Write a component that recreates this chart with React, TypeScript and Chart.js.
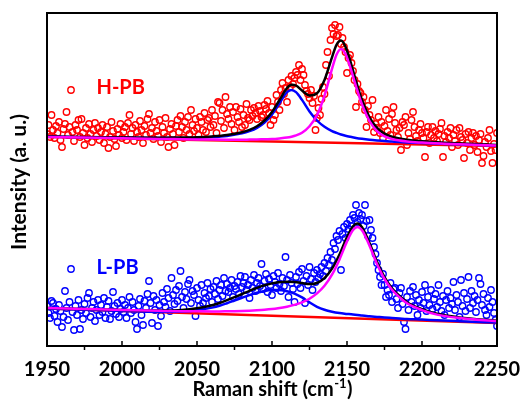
import React, { useEffect, useRef } from "react";
import { Chart, registerables } from "chart.js";

Chart.register(...registerables);

// Raman shift sampling of the measured spectra (cm-1)
const shiftStart = 1950;
const shiftStep = 1;

// H-PB measured intensity (a.u.), one value per cm-1 from 1950 to 2250
const hpbCounts = [
  212, 221, 209, 231, 216, 208, 220, 213, 224, 206,
  199, 217, 222, 234, 211, 219, 256, 214, 205, 221,
  216, 226, 209, 227, 213, 201, 218, 208, 222, 212,
  204, 216, 223, 210, 218, 206, 214, 221, 203, 212,
  219, 198, 209, 224, 215, 207, 200, 217, 211, 222,
  208, 214, 219, 206, 223, 231, 212, 218, 205, 221,
  214, 209, 225, 216, 203, 220, 211, 227, 232, 213,
  218, 207, 224, 215, 210, 226, 204, 219, 213, 228,
  209, 199, 217, 222, 212, 201, 220, 226, 214, 230,
  219, 208, 224, 216, 229, 212, 236, 221, 215, 227,
  218, 211, 229, 224, 216, 233, 214, 226, 228, 219,
  236, 221, 230, 213, 244, 243, 225, 236, 218, 249,
  232, 227, 239, 222, 234, 216, 239, 229, 224, 237,
  219, 231, 221, 242, 228, 226, 236, 230, 238, 233,
  227, 240, 235, 229, 231, 241, 237, 245, 233, 221,
  239, 226, 231, 251, 244, 236, 256, 263, 252, 258,
  244, 266, 259, 270, 262, 268, 274, 271, 281, 266,
  277, 271, 261, 255, 252, 248, 256, 243, 250, 216,
  228, 238, 231, 247, 259, 252, 281, 294, 270, 306,
  318, 312, 321, 310, 311, 319, 302, 308, 299, 294,
  273, 288, 291, 283, 275, 266, 239, 262, 255, 253,
  244, 249, 236, 219, 240, 231, 226, 246, 214, 222,
  218, 229, 213, 224, 208, 220, 236, 215, 227, 211,
  232, 239, 223, 216, 209, 218, 196, 224, 221, 229,
  201, 213, 207, 226, 234, 219, 210, 205, 216, 222,
  213, 208, 189, 214, 219, 203, 211, 219, 208, 215,
  205, 212, 217, 223, 189, 210, 204, 214, 208, 218,
  199, 211, 205, 216, 201, 218, 209, 206, 188, 212,
  203, 214, 196, 208, 213, 201, 210, 194, 206, 212,
  183, 190, 204, 199, 208, 216, 195, 183, 202, 196,
  213,
];

// L-PB measured intensity (a.u.), one value per cm-1 from 1950 to 2250
const lpbCounts = [
  40, 33, 28, 45, 43, 30, 37, 24, 41, 35,
  19, 29, 55, 38, 26, 44, 77, 34, 16, 40,
  31, 46, 17, 36, 27, 42, 33, 48, 53, 29,
  38, 44, 25, 36, 46, 31, 41, 34, 48, 28,
  39, 45, 27, 35, 54, 40, 32, 43, 29, 37,
  46, 34, 41, 28, 38, 49, 33, 44, 36, 24,
  17, 40, 47, 31, 21, 45, 38, 52, 65, 43,
  23, 50, 36, 46, 20, 41, 30, 53, 44, 39,
  57, 48, 35, 68, 51, 42, 56, 45, 60, 75,
  49, 38, 54, 47, 62, 66, 43, 55, 51, 30,
  58, 46, 40, 61, 43, 53, 48, 63, 50, 57,
  44, 59, 52, 65, 47, 56, 61, 50, 68, 55,
  62, 54, 58, 66, 49, 60, 57, 64, 52, 70,
  59, 63, 69, 56, 61, 48, 66, 58, 71, 55,
  63, 68, 60, 82, 57, 65, 72, 54, 67, 61,
  51, 70, 64, 58, 73, 62, 55, 68, 60, 89,
  66, 49, 71, 63, 57, 44, 69, 62, 74, 58,
  77, 65, 43, 70, 61, 79, 67, 56, 73, 64,
  76, 68, 72, 79, 70, 83, 75, 88, 81, 94,
  86, 103, 97, 110, 106, 115, 76, 112, 119, 108,
  122, 117, 126, 120, 131, 128, 141, 124, 133, 127,
  131, 120, 141, 125, 110, 126, 116, 108, 99, 92,
  83, 76, 69, 61, 72, 61, 49, 56, 51, 63,
  44, 57, 58, 47, 38, 53, 58, 42, 24, 17,
  49, 36, 55, 44, 59, 40, 51, 31, 46, 38,
  54, 43, 61, 35, 49, 41, 56, 37, 47, 52,
  39, 61, 44, 35, 50, 31, 46, 55, 38, 48,
  42, 64, 36, 51, 44, 29, 66, 40, 53, 35,
  47, 69, 38, 55, 43, 50, 34, 46, 68, 62,
  41, 52, 36, 31, 48, 39, 56, 44, 33, 26,
  20,
];

// H-PB fit curves
const hFitX = [1950, 1975, 2000, 2025, 2040, 2050, 2060, 2070, 2080, 2085, 2090, 2095, 2100, 2105, 2110, 2113, 2116, 2120, 2125, 2130, 2135, 2140, 2143, 2146, 2149, 2152, 2156, 2160, 2165, 2170, 2175, 2180, 2190, 2200, 2215, 2230, 2250];
const hTotalFit = [209.5, 208.9, 208.5, 208.3, 208.5, 208.8, 209.6, 211.0, 213.8, 216.2, 219.8, 225.5, 234.0, 246.0, 258.0, 261.3, 260.5, 255.5, 250.6, 252.8, 266.1, 288.7, 301.2, 305.5, 299.3, 285.9, 265.0, 246.0, 228.7, 218.1, 212.3, 209.3, 206.3, 204.8, 203.3, 202.2, 201.1];
const hPeakLow = [209.4, 208.7, 208.2, 208.0, 208.0, 208.3, 208.9, 210.1, 212.6, 214.8, 218.1, 223.4, 231.5, 242.8, 253.8, 256.1, 253.9, 246.1, 234.6, 225.5, 219.2, 214.9, 213.1, 211.5, 210.3, 209.3, 208.1, 207.2, 206.3, 205.6, 205.0, 204.4, 203.6, 202.9, 202.1, 201.4, 200.6];
const hPeakHigh = [209.1, 208.4, 207.7, 207.1, 206.8, 206.6, 206.4, 206.3, 206.3, 206.4, 206.5, 206.8, 207.0, 207.6, 208.4, 209.3, 210.6, 213.3, 219.8, 230.9, 250.4, 277.1, 291.3, 297.1, 292.0, 279.6, 259.7, 241.5, 225.0, 214.9, 209.6, 207.0, 204.5, 203.4, 202.3, 201.4, 200.5];
const hBaseX = [1950, 2250];
const hBaseline = [209, 200];

// L-PB fit curves
const lFitX = [1950, 1975, 2000, 2025, 2040, 2050, 2060, 2065, 2070, 2075, 2080, 2085, 2090, 2095, 2100, 2104, 2110, 2115, 2120, 2125, 2130, 2135, 2140, 2145, 2150, 2154, 2157, 2160, 2165, 2170, 2175, 2180, 2185, 2190, 2200, 2210, 2225, 2250];
const lTotalFit = [38.0, 37.0, 36.0, 35.5, 36.0, 37.7, 40.8, 43.0, 45.8, 48.8, 52.0, 55.2, 58.2, 60.7, 62.6, 63.7, 64.3, 64.0, 63.0, 61.9, 63.0, 67.8, 77.3, 91.5, 108.9, 119.8, 122.5, 118.8, 102.9, 84.2, 68.9, 57.8, 50.1, 43.8, 36.9, 32.2, 28.6, 25.2];
const lPeakLow = [37.5, 36.3, 35.1, 34.2, 34.4, 35.7, 38.4, 40.3, 42.8, 45.5, 48.2, 50.9, 53.2, 55.0, 56.0, 56.1, 54.8, 52.4, 48.6, 43.6, 39.2, 36.2, 34.3, 33.0, 32.1, 31.4, 31.0, 30.4, 29.7, 29.1, 28.5, 28.0, 27.5, 27.0, 26.4, 25.7, 24.8, 23.4];
const lPeakHigh = [38.0, 37.0, 36.0, 35.2, 34.8, 34.7, 34.6, 34.6, 34.7, 34.8, 35.0, 35.3, 35.7, 36.2, 36.9, 37.7, 39.3, 41.1, 43.7, 47.3, 52.6, 60.2, 71.3, 86.6, 104.6, 116.0, 119.0, 115.7, 100.3, 82.0, 67.0, 56.2, 48.7, 42.7, 35.9, 31.4, 28.0, 24.8];
const lBaseX = [1950, 2250];
const lBaseline = [37.5, 23];

// axis
const xMin = 1950;
const xMax = 2250;
const xMajorStep = 50;
const xMinorStep = 25;
const yMin = 0;
const yMax = 333;

// series labels (data coordinates)
const seriesLabels = [
  { text: "H-PB", x: 1983, y: 258, color: "#ff0000" },
  { text: "L-PB", x: 1983, y: 78, color: "#0000ff" },
];

const FONT = "Lato, 'Open Sans', sans-serif";

const pts = (xs: number[], ys: number[]) => ys.map((y, i) => ({ x: xs[i], y }));
const spectrum = (ys: number[]) => ys.map((y, i) => ({ x: shiftStart + i * shiftStep, y }));

const lineDs = (data: { x: number; y: number }[], color: string, order: number) => ({
  type: "line" as const,
  data,
  borderColor: color,
  borderWidth: 2.5,
  pointRadius: 0,
  fill: false,
  showLine: true,
  cubicInterpolationMode: "monotone" as const,
  order,
});

const scatterDs = (data: { x: number; y: number }[], color: string, order: number) => ({
  type: "scatter" as const,
  data,
  showLine: false,
  pointStyle: "circle",
  pointRadius: 3.2,
  pointBorderWidth: 1.4,
  pointBackgroundColor: "rgba(0,0,0,0)",
  pointBorderColor: color,
  order,
});

const framePlugin = {
  id: "frame",
  afterDraw(chart: any) {
    const { ctx, chartArea } = chart;
    const xs = chart.scales.x;
    const ys = chart.scales.y;
    const { left, right, top, bottom } = chartArea;
    ctx.save();
    ctx.strokeStyle = "#000";
    ctx.lineWidth = 2;
    ctx.strokeRect(left, top, right - left, bottom - top);
    ctx.lineWidth = 1.5;
    for (let v = xMin; v <= xMax; v += xMinorStep) {
      const px = xs.getPixelForValue(v);
      ctx.beginPath();
      if ((v - xMin) % xMajorStep === 0) {
        ctx.moveTo(px, bottom);
        ctx.lineTo(px, bottom - 5);
      } else {
        ctx.moveTo(px, bottom);
        ctx.lineTo(px, bottom + 4);
      }
      ctx.stroke();
    }
    // series labels
    ctx.font = `bold 20px ${FONT}`;
    ctx.textAlign = "left";
    ctx.textBaseline = "middle";
    for (const l of seriesLabels) {
      ctx.fillStyle = l.color;
      ctx.fillText(l.text, xs.getPixelForValue(l.x), ys.getPixelForValue(l.y));
    }
    // y title
    ctx.fillStyle = "#000";
    ctx.save();
    ctx.translate(19, 182);
    ctx.rotate(-Math.PI / 2);
    ctx.textAlign = "center";
    ctx.font = `bold 21px ${FONT}`;
    ctx.fillText("Intensity (a. u.)", 0, 0);
    ctx.restore();
    // x title with superscript
    const main = "Raman shift (cm";
    const sup = "-1";
    const tail = ")";
    ctx.font = `bold 20px ${FONT}`;
    const w1 = ctx.measureText(main).width;
    const w3 = ctx.measureText(tail).width;
    ctx.font = `bold 13px ${FONT}`;
    const w2 = ctx.measureText(sup).width;
    const cx = 272;
    const x0 = cx - (w1 + w2 + w3) / 2;
    const by = 396;
    ctx.textAlign = "left";
    ctx.textBaseline = "alphabetic";
    ctx.font = `bold 20px ${FONT}`;
    ctx.fillText(main, x0, by);
    ctx.font = `bold 13px ${FONT}`;
    ctx.fillText(sup, x0 + w1 + 0.5, by - 8);
    ctx.font = `bold 20px ${FONT}`;
    ctx.fillText(tail, x0 + w1 + w2 + 1, by);
    ctx.restore();
  },
};

export default function App() {
  const ref = useRef<HTMLCanvasElement>(null);
  useEffect(() => {
    const chart = new Chart(ref.current as HTMLCanvasElement, {
      type: "scatter",
      data: {
        datasets: [
          lineDs(pts(hFitX, hPeakHigh), "#ff00ff", 1),
          lineDs(pts(hFitX, hTotalFit), "#000000", 2),
          lineDs(pts(hFitX, hPeakLow), "#0000ff", 3),
          lineDs(pts(hBaseX, hBaseline), "#ff0000", 4),
          scatterDs(spectrum(hpbCounts), "#ff0000", 5),
          lineDs(pts(lFitX, lPeakHigh), "#ff00ff", 1),
          lineDs(pts(lFitX, lTotalFit), "#000000", 2),
          lineDs(pts(lFitX, lPeakLow), "#0000ff", 3),
          lineDs(pts(lBaseX, lBaseline), "#ff0000", 4),
          scatterDs(spectrum(lpbCounts), "#0000ff", 5),
        ] as any,
      },
      options: {
        responsive: false,
        animation: false,
        layout: { padding: { left: 47, right: 23, top: 13, bottom: 0 } },
        plugins: { legend: { display: false }, tooltip: { enabled: false } },
        scales: {
          x: {
            type: "linear",
            min: xMin,
            max: xMax,
            grid: { display: false, drawTicks: false },
            border: { display: false },
            ticks: {
              stepSize: xMajorStep,
              color: "#000",
              padding: 12,
              font: { family: FONT, weight: "bold", size: 20 },
              callback: (v: any) => String(v),
            },
            afterFit: (s: any) => {
              s.height = 59;
              s.paddingLeft = 0;
              s.paddingRight = 0;
            },
          },
          y: {
            type: "linear",
            min: yMin,
            max: yMax,
            display: false,
          },
        },
      },
      plugins: [framePlugin],
    });
    return () => chart.destroy();
  }, []);
  return (
    <div style={{ position: "absolute", left: 0, top: 0, width: 520, height: 405, background: "#fff" }}>
      <canvas ref={ref} width={520} height={405} style={{ display: "block" }} />
    </div>
  );
}
